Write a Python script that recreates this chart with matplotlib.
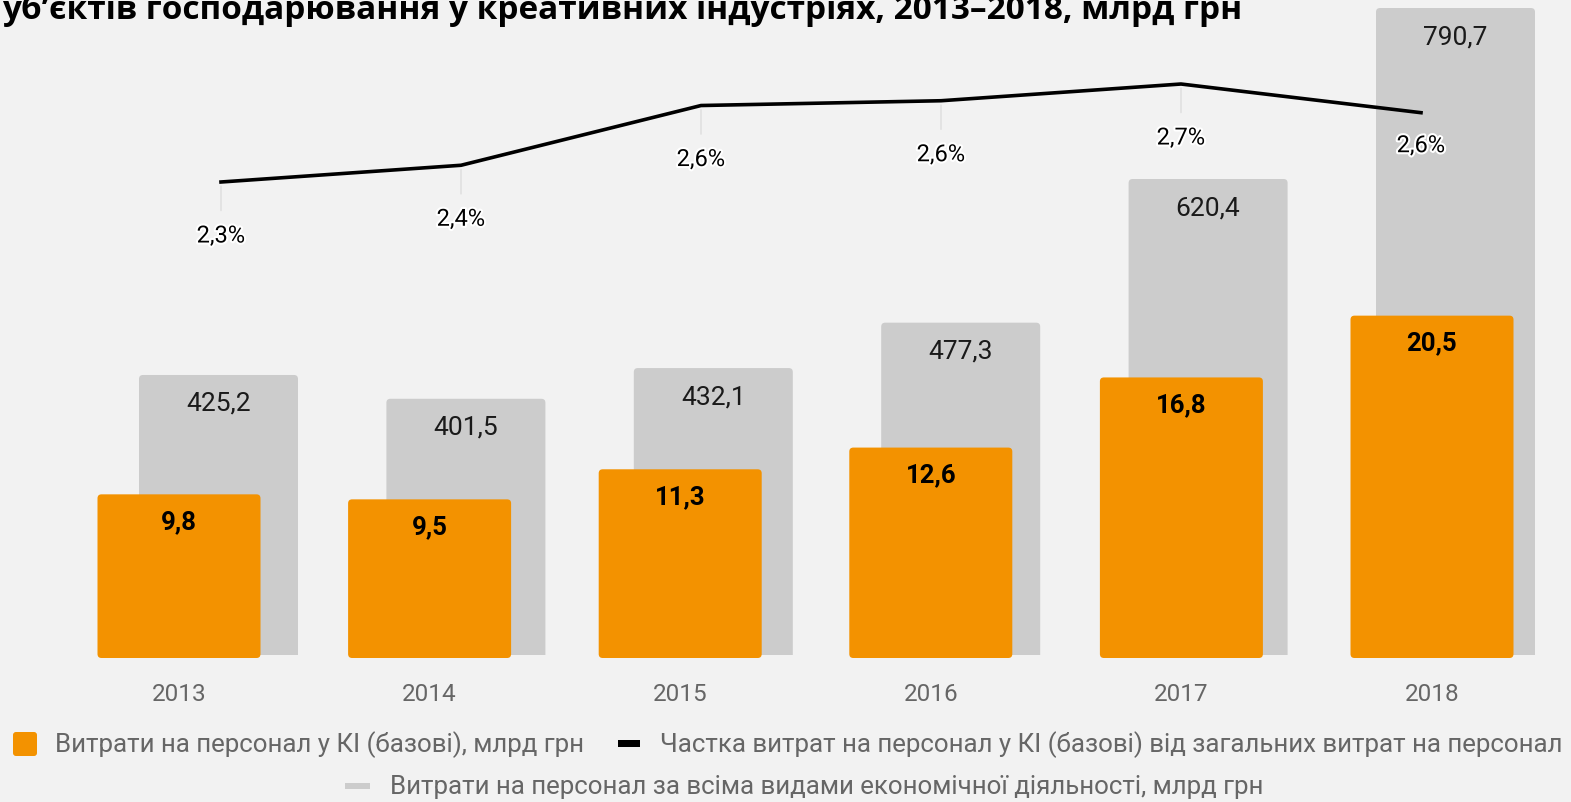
import matplotlib.pyplot as plt
import matplotlib.patheffects as pe
from matplotlib.patches import FancyBboxPatch, Rectangle
from matplotlib.transforms import IdentityTransform

years = ['2013', '2014', '2015', '2016', '2017', '2018']
ki_costs = [9.8, 9.5, 11.3, 12.6, 16.8, 20.5]          # млрд грн, КІ
all_costs = [425.2, 401.5, 432.1, 477.3, 620.4, 790.7]  # млрд грн, всі види
share_pct = [2.30, 2.37, 2.62, 2.64, 2.71, 2.59]        # %

W, H = 1571, 803
BG = '#f2f2f2'
ORANGE = '#f39200'
GRAY = '#cccccc'
TXT = '#666666'

plt.rcParams['font.family'] = ['Roboto', 'DejaVu Sans']

fig = plt.figure(figsize=(W / 100, H / 100), dpi=100, facecolor=BG)


def box(left, top, right, bottom):
    # pixel rectangle -> figure fraction
    return [left / W, 1 - bottom / H, (right - left) / W, (bottom - top) / H]


ax_gray = fig.add_axes(box(0, 0, W, 656))
ax_or = fig.add_axes(box(0, 0, W, 659))
ax_line = fig.add_axes(box(0, 0, W, 659))
for a in (ax_gray, ax_or, ax_line):
    a.set_facecolor('none')
    for s in a.spines.values():
        s.set_visible(False)
ax_gray.set_axis_off()
ax_line.set_axis_off()

x = list(range(len(years)))

# сірі стовпці (всі види діяльності)
gstep = 247.4
ax_gray.set_xlim(-218.5 / gstep, (W - 218.5) / gstep)
ax_gray.set_ylim(146.3, 146.3 + 656 / 1.004)
gbars = ax_gray.bar(x, all_costs, width=159 / gstep, color=GRAY)

# помаранчеві стовпці (КІ)
step = 250.6
ax_or.set_xlim(-179 / step, (W - 179) / step)
ax_or.set_ylim(0, 659 / 16.7)
obars = ax_or.bar(x, ki_costs, width=163 / step, color=ORANGE)


def round_bars(ax, bars, r_px, pos_px_h):
    x0, x1 = ax.get_xlim()
    y0, y1 = ax.get_ylim()
    xu = (x1 - x0) / W
    yu = (y1 - y0) / pos_px_h
    for b in bars:
        b.set_visible(False)
        p = FancyBboxPatch((b.get_x(), b.get_y()), b.get_width(), b.get_height(),
                           boxstyle=f'round,pad=0,rounding_size={r_px * xu}',
                           mutation_aspect=yu / xu, fc=b.get_facecolor(), ec='none',
                           zorder=2)
        ax.add_patch(p)


round_bars(ax_gray, gbars, 4, 656)
round_bars(ax_or, obars, 4, 659)

for b, v in zip(gbars, all_costs):
    ax_gray.annotate(f'{v:.1f}'.replace('.', ','), (b.get_x() + b.get_width() / 2, v),
                     xytext=(0, -28), textcoords='offset pixels', ha='center', va='center',
                     fontsize=19, color='#1a1a1a', zorder=3)

for b, v in zip(obars, ki_costs):
    ax_or.annotate(f'{v:.1f}'.replace('.', ','), (b.get_x() + b.get_width() / 2, v),
                   xytext=(0, -27), textcoords='offset pixels', ha='center', va='center',
                   fontsize=18.5, fontweight='bold', color='black', zorder=3)

ax_or.set_xticks(x, years)
ax_or.set_yticks([])
ax_or.tick_params(axis='x', length=0, pad=17, labelsize=17.5, labelcolor=TXT)

# лінія частки
ax_line.set_xlim(-221 / 240, (W - 221) / 240)
ax_line.set_ylim(2.30 - (659 - 183) / 239, 2.30 + 183 / 239)
ax_line.plot(x, share_pct, color='black', lw=2.6, solid_joinstyle='round', zorder=4)
label_dy = [-54, -54, -54, -54, -54, -33]
for i, v, dy in zip(x, share_pct, label_dy):
    arrow = None
    if dy < -40:
        arrow = dict(arrowstyle='-', color='#dddddd', lw=1, shrinkA=8, shrinkB=3)
    ax_line.annotate(f'{v:.1f}%'.replace('.', ','), (i, v), xytext=(0, dy),
                     textcoords='offset pixels', ha='center', va='center',
                     fontsize=17, color='black', zorder=5,
                     path_effects=[pe.withStroke(linewidth=3, foreground='white')],
                     arrowprops=arrow)

# заголовок (обрізаний зверху)
fig.text(2 / W, 1 - 19 / H,
         'уб’єктів господарювання у креативних індустріях, 2013–2018, млрд грн',
         fontsize=24, fontweight='bold', family='Open Sans', va='baseline', color='black')

# легенда
idt = IdentityTransform()
fig.add_artist(FancyBboxPatch((13, H - 757), 24, 24, boxstyle='round,pad=0,rounding_size=3',
                              transform=idt, fc=ORANGE, ec='none'))
fig.text(55 / W, 1 - 745 / H, 'Витрати на персонал у КІ (базові), млрд грн',
         fontsize=18.6, color=TXT, va='center')
fig.add_artist(Rectangle((618, H - 748), 22, 7, transform=idt, fc='black', ec='none'))
fig.text(660 / W, 1 - 745 / H,
         'Частка витрат на персонал у КІ (базові) від загальних витрат на персонал',
         fontsize=18.6, color=TXT, va='center')
fig.add_artist(Rectangle((345, H - 790), 25, 6, transform=idt, fc=GRAY, ec='none'))
fig.text(390 / W, 1 - 787 / H,
         'Витрати на персонал за всіма видами економічної діяльності, млрд грн',
         fontsize=18.6, color=TXT, va='center')

fig.savefig('out.png', dpi=100, facecolor=BG)
